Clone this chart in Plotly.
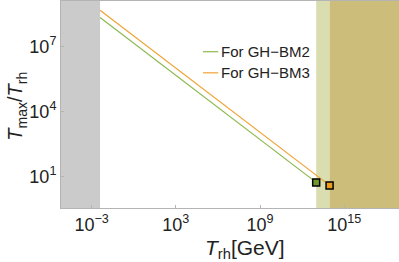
import plotly.graph_objects as go

# ---- data ----
series_names = ["For GH\u2212BM2", "For GH\u2212BM3"]
bm2_trh = [4e-3, 1.0e13]          # T_rh [GeV]
bm2_ratio = [2.2e8, 5.3]          # T_max / T_rh
bm3_trh = [4e-3, 9.0e13]
bm3_ratio = [4.8e8, 3.85]
bm2_end = ([1.0e13], [5.3])
bm3_end = ([9.0e13], [3.85])

bbn_region = [1e-6, 4e-3]          # excluded (gray)
light_region = [1.0e13, 9.0e13]    # light band
dark_region = [9.0e13, 1e20]       # dark band

x_tickvals = [1e-3, 1e3, 1e9, 1e15]
x_ticktext = ["10<sup>\u22123</sup>", "10<sup>3</sup>", "10<sup>9</sup>", "10<sup>15</sup>"]
y_tickvals = [1e1, 1e4, 1e7]
y_ticktext = ["10<sup>1</sup>", "10<sup>4</sup>", "10<sup>7</sup>"]

green = "#8cb84c"
orange = "#f0a232"
FONT = "Liberation Sans, Arial, sans-serif"

fig = go.Figure()

fig.add_trace(go.Scatter(x=bm2_trh, y=bm2_ratio, mode="lines",
                         line=dict(color=green, width=1.2), showlegend=False))
fig.add_trace(go.Scatter(x=bm3_trh, y=bm3_ratio, mode="lines",
                         line=dict(color=orange, width=1.2), showlegend=False))
fig.add_trace(go.Scatter(x=bm2_end[0], y=bm2_end[1], mode="markers",
                         marker=dict(symbol="square", size=7, color="#6f9a2a",
                                     line=dict(color="black", width=1.5)),
                         showlegend=False))
fig.add_trace(go.Scatter(x=bm3_end[0], y=bm3_end[1], mode="markers",
                         marker=dict(symbol="square", size=7, color="#eb9b1e",
                                     line=dict(color="black", width=1.5)),
                         showlegend=False))

shapes = []
for reg, col in [(bbn_region, "#cbcbcb"), (light_region, "#d9ddb0"), (dark_region, "#cdbd7b")]:
    shapes.append(dict(type="rect", xref="x", yref="paper",
                       x0=reg[0], x1=reg[1], y0=0, y1=1,
                       fillcolor=col, line=dict(width=0), layer="below"))

# manual legend
leg_x0, leg_x1 = 0.42, 0.465
for i, (name, col) in enumerate(zip(series_names, [green, orange])):
    yy = 0.755 - i * 0.102
    shapes.append(dict(type="line", xref="paper", yref="paper",
                       x0=leg_x0, x1=leg_x1, y0=yy, y1=yy,
                       line=dict(color=col, width=1.2)))

annotations = []
for i, name in enumerate(series_names):
    yy = 0.755 - i * 0.102
    annotations.append(dict(xref="paper", yref="paper", x=0.466, y=yy,
                            text=name, showarrow=False, xanchor="left", yanchor="middle",
                            font=dict(family=FONT, size=15, color="#222222")))

annotations.append(dict(xref="paper", yref="paper", x=0.545, y=-0.2,
                        text="<i>T</i><sub>rh</sub>[GeV]", showarrow=False,
                        xanchor="center", yanchor="middle",
                        font=dict(family=FONT, size=21, color="#222222")))
annotations.append(dict(xref="paper", yref="paper", x=-0.13, y=0.49,
                        text="<i>T</i><sub>max</sub>/<i>T</i><sub>rh</sub>", showarrow=False,
                        textangle=-90, xanchor="center", yanchor="middle",
                        font=dict(family=FONT, size=20, color="#222222")))

fig.update_layout(
    width=399, height=262,
    margin=dict(l=61, r=0, t=1, b=54),
    plot_bgcolor="white", paper_bgcolor="white",
    shapes=shapes, annotations=annotations,
    font=dict(family=FONT, size=18, color="#222222"),
    showlegend=False,
)
fig.update_xaxes(type="log", range=[-5.18, 18.9], tickvals=x_tickvals, ticktext=x_ticktext,
                 showgrid=False, zeroline=False, showline=True, linecolor="#b4b4b4",
                 linewidth=1, mirror=True, ticks="inside", ticklen=3, tickcolor="#b4b4b4",
                 tickfont=dict(size=18), automargin=False)
fig.update_yaxes(type="log", range=[-0.46, 9.11], tickvals=y_tickvals, ticktext=y_ticktext,
                 showgrid=False, zeroline=False, showline=True, linecolor="#b4b4b4",
                 linewidth=1, mirror=True, ticks="inside", ticklen=3, tickcolor="#b4b4b4",
                 tickfont=dict(size=18), automargin=False)

fig.write_html("out.html", config={"displayModeBar": False},
               post_script="document.body.style.margin='0';")
